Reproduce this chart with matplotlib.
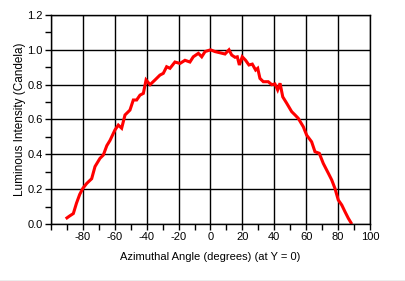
import matplotlib
matplotlib.use("Agg")
import matplotlib.pyplot as plt
from matplotlib.lines import Line2D
from matplotlib.ticker import MultipleLocator

# Azimuthal angle (degrees) and luminous intensity (candela)
angle = [-90, -88.5, -86, -84, -82, -80, -77.6, -74.5, -72.4, -69.3, -67.2, -65, -63,
         -59.9, -57.8, -55.7, -53.6, -50.5, -48.4, -46.3, -44.2, -42.1, -40.4, -37.9,
         -34.8, -31.7, -29.6, -27.5, -25.4, -22.3, -19.1, -16, -12.9, -10.8, -7.6, -5.5,
         -3.4, 0, 2.8, 6, 9.1, 11.6, 13.3, 15.4, 16.8, 18.1, 19.9, 22, 24.1, 26.2, 28.3,
         29.6, 31, 33.1, 36.2, 38.4, 40.4, 42.1, 43.6, 45.3, 47.8, 50.9, 53, 55, 58.2,
         60.3, 63.4, 65.5, 68.2, 70.7, 73.9, 76, 78, 80.1, 82.3, 84.3, 86.4, 88.1]
intensity = [0.035, 0.045, 0.06, 0.12, 0.17, 0.205, 0.233, 0.26, 0.33, 0.377, 0.396, 0.45,
             0.48, 0.54, 0.568, 0.55, 0.626, 0.654, 0.712, 0.712, 0.74, 0.75, 0.827, 0.80,
             0.827, 0.855, 0.865, 0.903, 0.894, 0.93, 0.922, 0.94, 0.93, 0.96, 0.98, 0.96,
             0.99, 1.0, 0.99, 0.983, 0.976, 1.0, 0.97, 0.957, 0.96, 0.913, 0.96, 0.94, 0.913,
             0.918, 0.884, 0.894, 0.836, 0.817, 0.817, 0.80, 0.804, 0.77, 0.808, 0.73, 0.693,
             0.645, 0.626, 0.607, 0.558, 0.51, 0.472, 0.415, 0.406, 0.348, 0.291, 0.253,
             0.205, 0.138, 0.109, 0.071, 0.033, 0.007]

x_ticks = list(range(-100, 101, 20))
x_labels = [""] + [str(t) for t in x_ticks[1:]]
y_ticks = [0.0, 0.2, 0.4, 0.6, 0.8, 1.0, 1.2]
y_labels = ["%.1f" % t for t in y_ticks]

plt.rcParams["font.family"] = ["Liberation Sans", "DejaVu Sans"]
plt.rcParams["font.size"] = 8

fig = plt.figure(figsize=(4.06, 2.81), dpi=100)
ax = fig.add_axes([51 / 406, 1 - 224 / 281, 319 / 406, 209 / 281])

ax.plot(angle, intensity, color="#ff0000", linewidth=2.2, solid_joinstyle="miter")

ax.set_xlim(-100, 100)
ax.set_ylim(0, 1.2)
ax.set_xticks(x_ticks)
ax.set_xticklabels(x_labels)
ax.set_yticks(y_ticks)
ax.set_yticklabels(y_labels)
ax.xaxis.set_minor_locator(MultipleLocator(10))
ax.yaxis.set_minor_locator(MultipleLocator(0.1))
ax.tick_params(which="both", direction="out", length=4, width=1, color="black",
               labelsize=8, pad=2)
ax.grid(True, which="major", color="black", linewidth=1)
for s in ax.spines.values():
    s.set_color("black")
    s.set_linewidth(1)

ax.set_xlabel("Azimuthal Angle (degrees) (at Y = 0)", fontsize=8, labelpad=7)
ax.set_ylabel("Luminous Intensity (Candela)", fontsize=8.5, labelpad=1)

# window frame line at the bottom edge
fig.add_artist(Line2D([0, 1], [0.5 / 281, 0.5 / 281], color="#a0a0a0", linewidth=1,
                      transform=fig.transFigure))

fig.savefig("out.png", dpi=100)
